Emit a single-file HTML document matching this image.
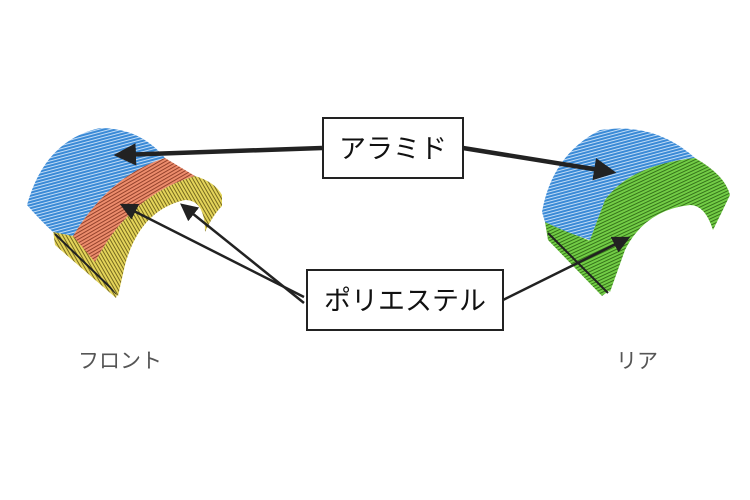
<!DOCTYPE html>
<html><head><meta charset="utf-8"><style>
body{margin:0;width:750px;height:500px;background:#fff;overflow:hidden}
svg{display:block}
text{font-family:"Liberation Sans","Noto Sans CJK JP",sans-serif}
</style></head><body>
<svg width="750" height="500" viewBox="0 0 750 500">
<defs>
<pattern id="pb" width="3" height="3" patternUnits="userSpaceOnUse" patternTransform="rotate(-15)"><rect width="3" height="3" fill="#3a8ad6"/><rect width="3" height="0.9" fill="#cfe4fa"/></pattern>
<pattern id="po" width="3" height="3" patternUnits="userSpaceOnUse" patternTransform="rotate(-30)"><rect width="3" height="3" fill="#ec8c6c"/><rect width="3" height="0.9" fill="#8a3a25"/></pattern>
<pattern id="py" width="3" height="3" patternUnits="userSpaceOnUse" patternTransform="rotate(60)"><rect width="3" height="3" fill="#e4d45a"/><rect width="3" height="0.9" fill="#6a5e18"/></pattern>
<pattern id="pg" width="3" height="3" patternUnits="userSpaceOnUse" patternTransform="rotate(-25)"><rect width="3" height="3" fill="#72cc46"/><rect width="3" height="0.9" fill="#2f6a14"/></pattern>
<marker id="ah" markerWidth="5" markerHeight="5" refX="4" refY="2.5" orient="auto" markerUnits="strokeWidth"><path d="M0,0 L5,2.5 L0,5 z" fill="#222"/></marker>
<marker id="ah2" markerWidth="7" markerHeight="7" refX="6" refY="3.5" orient="auto" markerUnits="strokeWidth"><path d="M0,0 L7,3.5 L0,7 z" fill="#222"/></marker>
</defs>
<!-- left -->
<path d="M53,230 L75,235 L118,292 L116,298 L55,245 Z" fill="url(#py)"/>
<line x1="55" y1="234" x2="117" y2="294" stroke="#222" stroke-width="2"/>
<path d="M27,205 Q45,140 100,128 Q140,128 165,158 Q110,175 73,236 L53,232 Q40,220 27,205 Z" fill="url(#pb)"/>
<path d="M165,158 L195,176 Q130,195 95,262 L73,236 Q110,175 165,158 Z" fill="url(#po)"/>
<path d="M195,176 Q215,182 222,195 L222,206 Q213,215 205,232 Q205,200 185,200 Q140,210 125,265 L118,296 Q105,280 95,262 Q130,195 195,176 Z" fill="url(#py)"/>
<!-- right -->
<path d="M545,222 L588,240 L610,290 L602,296 L548,240 Z" fill="url(#pg)"/>
<line x1="548" y1="233" x2="608" y2="293" stroke="#222" stroke-width="2"/>
<path d="M542,212 Q552,155 600,130 Q655,122 695,158 Q630,165 605,200 L590,240 Q565,232 545,222 Z" fill="url(#pb)"/>
<path d="M695,158 Q725,175 730,195 Q722,212 713,230 Q705,205 690,205 Q645,210 625,250 L610,292 Q595,275 570,245 L590,240 L605,200 Q630,165 695,158 Z" fill="url(#pg)"/>
<!-- arrows -->
<g stroke="#222" fill="none">
<line x1="322" y1="148" x2="118" y2="155" stroke-width="4.5" marker-end="url(#ah)"/>
<line x1="463" y1="148" x2="612" y2="172" stroke-width="4.5" marker-end="url(#ah)"/>
<line x1="304" y1="297" x2="122" y2="205" stroke-width="2.5" marker-end="url(#ah2)"/>
<line x1="304" y1="303" x2="182" y2="205" stroke-width="2.5" marker-end="url(#ah2)"/>
<line x1="503" y1="300" x2="628" y2="238" stroke-width="2.5" marker-end="url(#ah2)"/>
</g>
<rect x="323" y="118" width="140" height="60" fill="#fff" stroke="#222" stroke-width="2"/>
<text x="393" y="158" font-size="27" text-anchor="middle" fill="#111">アラミド</text>
<rect x="307" y="270" width="196" height="60" fill="#fff" stroke="#222" stroke-width="2"/>
<text x="405" y="310" font-size="27" text-anchor="middle" fill="#111">ポリエステル</text>
<text x="120" y="368" font-size="21" text-anchor="middle" fill="#555">フロント</text>
<text x="637" y="368" font-size="21" text-anchor="middle" fill="#555">リア</text>
</svg>
</body></html>
